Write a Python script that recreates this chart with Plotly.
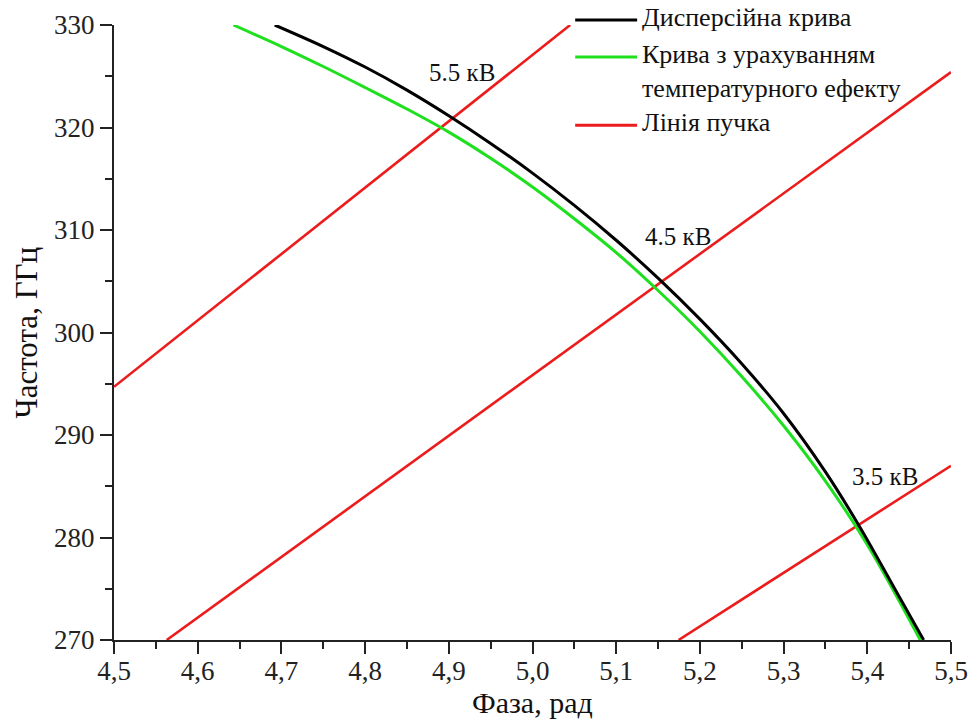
import plotly.graph_objects as go

# Dispersion curve (phase in rad, frequency in GHz)
disp_phase = [4.692, 4.75, 4.80, 4.85, 4.90, 4.95, 5.00, 5.05, 5.10, 5.15,
              5.20, 5.25, 5.30, 5.35, 5.3896, 5.4314, 5.4673]
disp_freq = [330.0, 327.9, 325.9, 323.65, 321.15, 318.45, 315.55, 312.4, 309.0, 305.3,
             301.3, 296.95, 292.1, 286.4, 281.22, 275.2, 270.0]

# Dispersion curve including the temperature effect
temp_phase = [4.6426, 4.70, 4.75, 4.80, 4.85, 4.90, 4.95, 5.00, 5.05, 5.10, 5.15,
              5.20, 5.25, 5.30, 5.35, 5.40, 5.4633]
temp_freq = [330.0, 327.9, 325.95, 323.9, 321.8, 319.55, 317.0, 314.2, 311.1, 307.8, 304.1,
             300.1, 295.7, 290.9, 285.5, 279.3, 270.0]

# Beam lines for three accelerating voltages (end points)
beam_labels = ["5.5 кВ", "4.5 кВ", "3.5 кВ"]
beam_phase = [[4.5, 5.045], [4.563, 5.5], [5.1745, 5.5]]
beam_freq = [[294.7, 330.0], [270.0, 325.4], [270.0, 287.0]]
label_phase = [4.916, 5.174, 5.421]
label_freq = [325.4, 309.4, 286.0]

legend_names = ["Дисперсійна крива",
                "Крива з урахуванням<br>температурного ефекту",
                "Лінія пучка"]

x_title = "Фаза, рад"
y_title = "Частота, ГГц"

BLACK = "#000000"
GREEN = "#1fe01f"
RED = "#ec1c1c"
SERIF = "Liberation Serif, Times New Roman, serif"
AXIS_COLOR = "#222222"
TEXT_COLOR = "#111111"

fig = go.Figure()

for bp, bf in zip(beam_phase, beam_freq):
    fig.add_trace(go.Scatter(x=bp, y=bf, mode="lines", showlegend=False,
                             line=dict(color=RED, width=2.6), hoverinfo="skip"))

fig.add_trace(go.Scatter(x=temp_phase, y=temp_freq, mode="lines", showlegend=False,
                         line=dict(color=GREEN, width=3, shape="spline", smoothing=1)))
fig.add_trace(go.Scatter(x=disp_phase, y=disp_freq, mode="lines", showlegend=False,
                         line=dict(color=BLACK, width=3, shape="spline", smoothing=1)))

# Voltage labels next to each beam line
for txt, lx, ly in zip(beam_labels, label_phase, label_freq):
    fig.add_annotation(x=lx, y=ly, text=txt, showarrow=False,
                       font=dict(family=SERIF, size=25, color=TEXT_COLOR))

# Legend drawn as short line samples with text to the right
legend_colors = [BLACK, GREEN, RED]
legend_rows_y = [1.008, 0.948, 0.837]
for name, col, ry in zip(legend_names, legend_colors, legend_rows_y):
    fig.add_shape(type="line", xref="paper", yref="paper",
                  x0=0.551, x1=0.625, y0=ry, y1=ry,
                  line=dict(color=col, width=3))
    fig.add_annotation(xref="paper", yref="paper", x=0.6287, y=ry + 0.031,
                       xanchor="left", yanchor="top", align="left",
                       text=name, showarrow=False,
                       font=dict(family=SERIF, size=26, color=TEXT_COLOR))

# Axis titles placed in the margins
fig.add_annotation(xref="paper", yref="paper", x=0.5, y=-0.101,
                   xanchor="center", yanchor="middle", text=x_title, showarrow=False,
                   font=dict(family=SERIF, size=30, color=TEXT_COLOR))
fig.add_annotation(xref="paper", yref="paper", x=-0.104, y=0.5,
                   xanchor="center", yanchor="middle", text=y_title, textangle=-90,
                   showarrow=False, font=dict(family=SERIF, size=31, color=TEXT_COLOR))

axis_common = dict(
    showline=True, linecolor=AXIS_COLOR, linewidth=2,
    ticks="outside", ticklen=12, tickwidth=2, tickcolor=AXIS_COLOR,
    showgrid=False, zeroline=False, mirror=False, automargin=False,
    tickfont=dict(family=SERIF, size=27, color=AXIS_COLOR),
)

fig.update_xaxes(
    range=[4.5, 5.5], dtick=0.1, tick0=4.5, tickformat=".1f",
    ticklabelstandoff=-6,
    minor=dict(dtick=0.05, ticks="outside", ticklen=7, tickwidth=2, tickcolor=AXIS_COLOR),
    **axis_common,
)
fig.update_yaxes(
    range=[270, 330], dtick=10, tick0=270,
    minor=dict(dtick=5, ticks="outside", ticklen=7, tickwidth=2, tickcolor=AXIS_COLOR),
    **axis_common,
)

fig.update_layout(
    width=979, height=720,
    margin=dict(l=114, r=28, t=25, b=80),
    paper_bgcolor="white", plot_bgcolor="white",
    separators=", ",
    showlegend=False,
)

fig.write_html("out.html")
